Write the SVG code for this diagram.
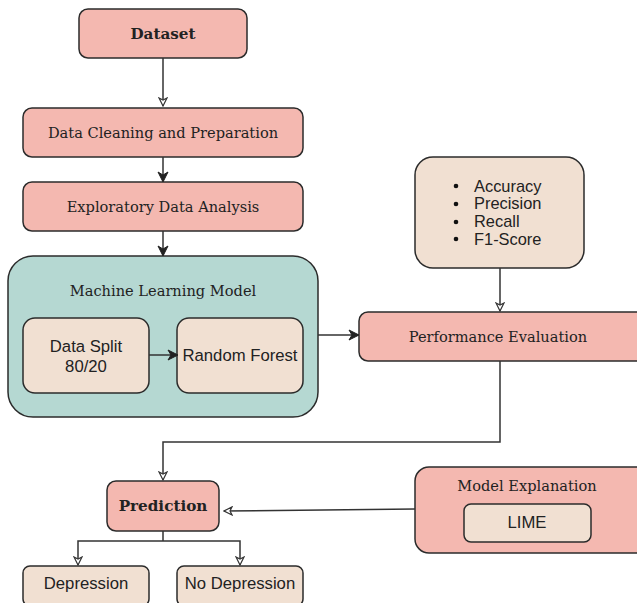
<svg xmlns="http://www.w3.org/2000/svg" width="637" height="603" viewBox="0 0 637 603">
<style>
.pink{fill:#f4b8b0;stroke:#2b2b2b;stroke-width:1.5}
.teal{fill:#b5d8d2;stroke:#2b2b2b;stroke-width:1.5}
.beige{fill:#f1e0d2;stroke:#2b2b2b;stroke-width:1.5}
.serif{font-family:"DejaVu Serif","Liberation Serif",serif;font-size:14.6px;fill:#222;text-anchor:middle}
.bold{font-weight:bold;font-size:15.2px}
.sans{font-family:"Liberation Sans",Arial,sans-serif;font-size:16.7px;fill:#222;text-anchor:middle}
.bul{font-family:"Liberation Sans",Arial,sans-serif;font-size:16.4px;fill:#222}
.ln{fill:none;stroke:#333;stroke-width:1.5}
</style>
<defs>
<marker id="open" markerWidth="10" markerHeight="10" refX="9" refY="5" orient="auto" markerUnits="userSpaceOnUse">
<path d="M1,1 L9,5 L1,9 L3,5 Z" fill="#fff" stroke="#333" stroke-width="1.2"/>
</marker>
<marker id="fill" markerWidth="12" markerHeight="12" refX="10" refY="6" orient="auto" markerUnits="userSpaceOnUse">
<path d="M1,1 L11,6 L1,11 L4,6 Z" fill="#222" stroke="#222" stroke-width="1"/>
</marker>
</defs>
<rect width="637" height="603" fill="#fff"/>
<g id="dataset">
<rect class="pink" x="79" y="9" width="168" height="49" rx="9"/>
<text class="serif bold" x="163" y="38.5">Dataset</text>
</g>
<g id="cleaning">
<rect class="pink" x="23" y="108" width="280" height="49" rx="9"/>
<text class="serif" x="163" y="137.5">Data Cleaning and Preparation</text>
</g>
<g id="eda">
<rect class="pink" x="23" y="182" width="280" height="49" rx="9"/>
<text class="serif" x="163" y="211.5">Exploratory Data Analysis</text>
</g>
<g id="ml-model">
<rect class="teal" x="8" y="256" width="310" height="161" rx="25"/>
<text class="serif" x="163" y="296">Machine Learning Model</text>
</g>
<g id="data-split">
<rect class="beige" x="23" y="318" width="126" height="75" rx="12"/>
<text class="sans" x="86" y="352">Data Split</text>
<text class="sans" x="86" y="372">80/20</text>
</g>
<g id="random-forest">
<rect class="beige" x="177" y="318" width="126" height="75" rx="12"/>
<text class="sans" x="240" y="361">Random Forest</text>
</g>
<g id="metrics">
<rect class="beige" x="415" y="157" width="169" height="111" rx="18"/>
<g fill="#111"><circle cx="456" cy="186" r="2.3"/><circle cx="456" cy="204" r="2.3"/><circle cx="456" cy="222" r="2.3"/><circle cx="456" cy="239" r="2.3"/></g>
<text class="bul" x="474" y="191.5">Accuracy</text>
<text class="bul" x="474" y="209">Precision</text>
<text class="bul" x="474" y="227">Recall</text>
<text class="bul" x="474" y="244.5">F1-Score</text>
</g>
<g id="performance">
<rect class="pink" x="359" y="312" width="290" height="49" rx="9"/>
<text class="serif" x="498" y="341.5">Performance Evaluation</text>
</g>
<g id="prediction">
<rect class="pink" x="107" y="481" width="112" height="50" rx="9"/>
<text class="serif bold" x="163" y="511">Prediction</text>
</g>
<g id="model-explanation">
<rect class="pink" x="415" y="467" width="240" height="86" rx="14"/>
<text class="serif" x="527" y="491">Model Explanation</text>
</g>
<g id="lime">
<rect class="beige" x="464" y="504" width="127" height="38" rx="7"/>
<text class="sans" x="527" y="528">LIME</text>
</g>
<g id="depression">
<rect class="beige" x="23" y="566" width="126" height="40" rx="7"/>
<text class="sans" x="86" y="589">Depression</text>
</g>
<g id="no-depression">
<rect class="beige" x="177" y="566" width="126" height="40" rx="7"/>
<text class="sans" x="240" y="589">No Depression</text>
</g>
<g id="connectors">
<path class="ln" d="M163,58 V106" marker-end="url(#open)"/>
<path class="ln" d="M163,157 V181" marker-end="url(#fill)"/>
<path class="ln" d="M163,231 V255" marker-end="url(#fill)"/>
<path class="ln" d="M149,355 H177" marker-end="url(#fill)"/>
<path class="ln" d="M318,335 H358" marker-end="url(#fill)"/>
<path class="ln" d="M500,268 V311" marker-end="url(#open)"/>
<path class="ln" d="M500,361 V442 H163 V480" marker-end="url(#open)"/>
<path class="ln" d="M415,509 L224,511" marker-end="url(#open)"/>
<path class="ln" d="M163,531 V541 M78,545 V541 H240 V545"/>
<path class="ln" d="M78,545 V565" marker-end="url(#open)"/>
<path class="ln" d="M240,545 V565" marker-end="url(#open)"/>
</g>
</svg>
